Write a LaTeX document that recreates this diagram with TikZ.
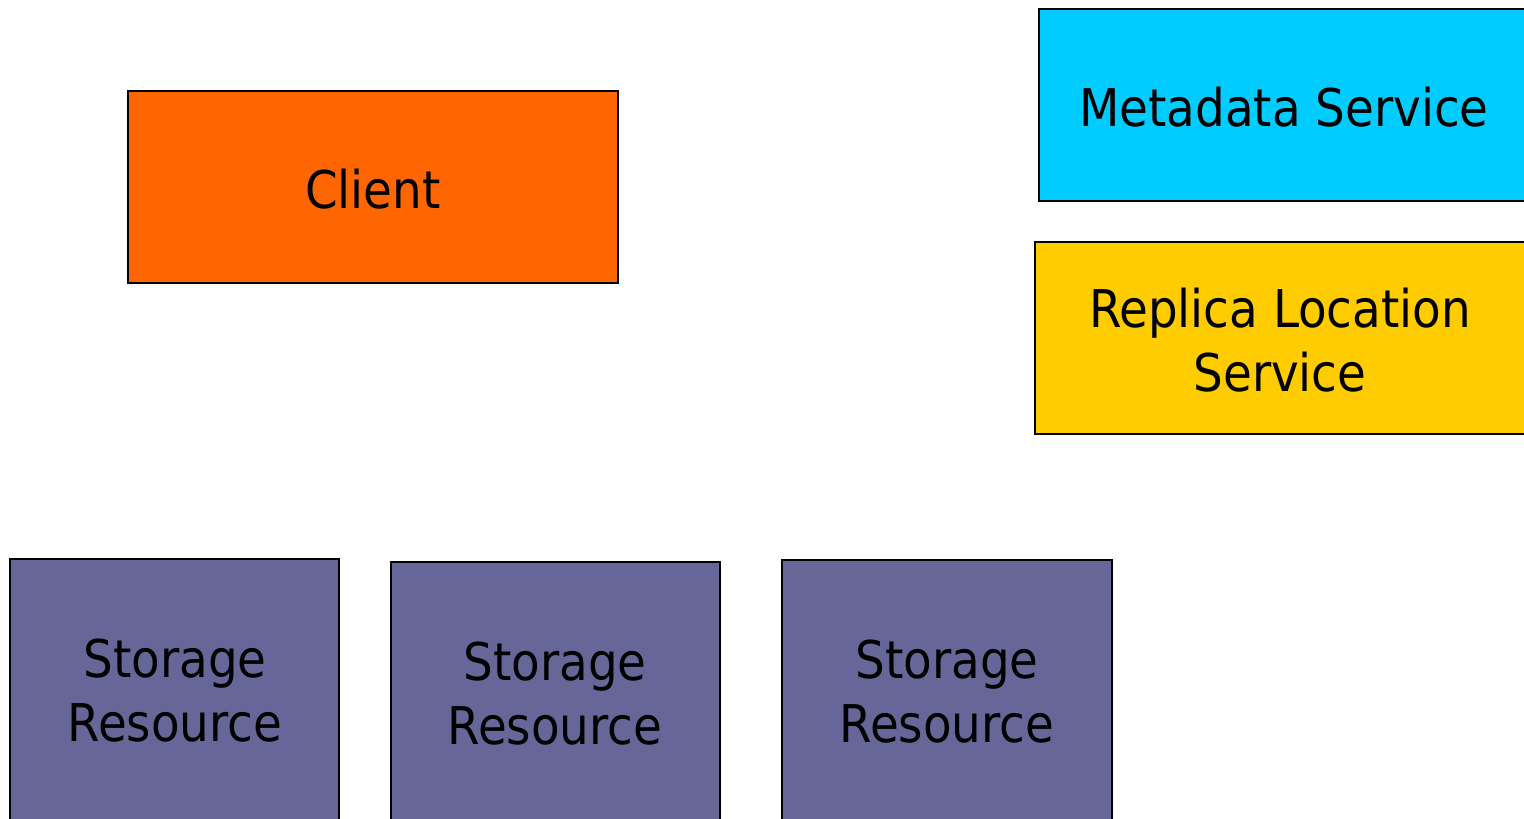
\documentclass[tikz,border=0pt]{standalone}
\usepackage{fontspec}
\setmainfont{DejaVu Sans Condensed}
\definecolor{clientc}{HTML}{FF6600}
\definecolor{metac}{HTML}{00CCFF}
\definecolor{replc}{HTML}{FFCC00}
\definecolor{storc}{HTML}{666699}
\begin{document}
\begin{tikzpicture}[x=1pt,y=-1pt,
  boxst/.style={draw=black,line width=1.8pt,inner sep=0pt},
  lbl/.style={align=center,font=\fontsize{52}{64}\selectfont,text=black}]
\useasboundingbox (0,0) rectangle (1524,819);
\clip (0,0) rectangle (1524,819);
\fill[white] (0,0) rectangle (1524,819);
\draw[boxst,fill=clientc] (128,91) rectangle (618,283);
\node[lbl] (client) at (373,189) {Client};
\draw[boxst,fill=metac] (1039,9) rectangle (1530,201);
\node[lbl] (meta) at (1284,107) {Metadata Service};
\draw[boxst,fill=replc] (1035,242) rectangle (1526,434);
\node[lbl] (repl) at (1280,340) {Replica Location\\Service};
\draw[boxst,fill=storc] (10,559) rectangle (339,830);
\node[lbl] (s1) at (175,691) {Storage\\Resource};
\draw[boxst,fill=storc] (391,562) rectangle (720,830);
\node[lbl] (s2) at (555,694) {Storage\\Resource};
\draw[boxst,fill=storc] (782,560) rectangle (1112,830);
\node[lbl] (s3) at (947,692) {Storage\\Resource};
\end{tikzpicture}
\end{document}
